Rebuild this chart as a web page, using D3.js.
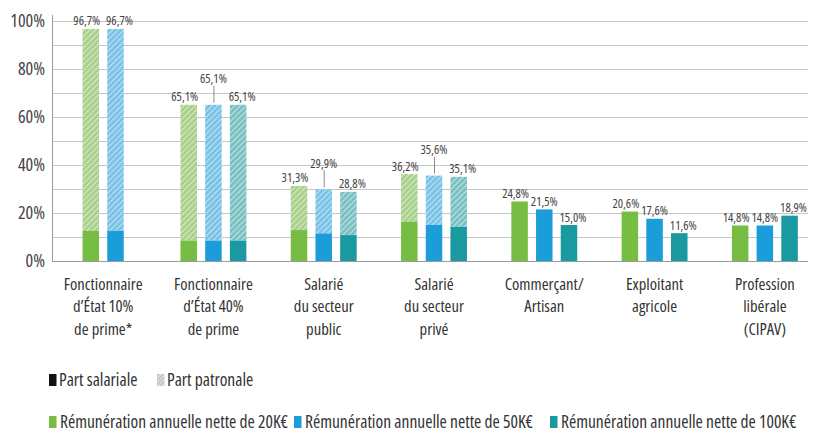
<!DOCTYPE html>
<html>
<head>
<meta charset="utf-8">
<script src="https://cdn.jsdelivr.net/npm/d3@7"></script>
<style>
  html, body { margin: 0; padding: 0; background: #fff; }
  svg { display: block; font-family: "Liberation Sans Narrow", "Open Sans", sans-serif; font-stretch: condensed; }
</style>
</head>
<body>
<svg id="chart" width="813" height="433"></svg>
<script>
// ---- data ----
const categories = [
  ["Fonctionnaire", "d’État 10%", "de prime*"],
  ["Fonctionnaire", "d’État 40%", "de prime"],
  ["Salarié", "du secteur", "public"],
  ["Salarié", "du secteur", "privé"],
  ["Commerçant/", "Artisan"],
  ["Exploitant", "agricole"],
  ["Profession", "libérale", "(CIPAV)"]
];
const seriesNames = [
  "Rémunération annuelle nette de 20K€",
  "Rémunération annuelle nette de 50K€",
  "Rémunération annuelle nette de 100K€"
];
const seriesColors = ["#78bd43", "#1b9dd9", "#1a9aa0"];
const hatchColors = ["#a6cf88", "#76c1e6", "#76bfc1"];
// total contribution rate (part salariale + part patronale), %
const total20  = [96.7, 65.1, 31.3, 36.2, 24.8, 20.6, 14.8];
const total50  = [96.7, 65.1, 29.9, 35.6, 21.5, 17.6, 14.8];
const total100 = [null, 65.1, 28.8, 35.1, 15.0, 11.6, 18.9];
// part salariale, %
const salarial20  = [12.5, 8.5, 12.9, 16.4, 24.8, 20.6, 14.8];
const salarial50  = [12.6, 8.5, 11.5, 15.0, 21.5, 17.6, 14.8];
const salarial100 = [null, 8.5, 10.8, 14.2, 15.0, 11.6, 18.9];
const yTicks = [0, 20, 40, 60, 80, 100];
const yGrid = [0, 10, 20, 30, 40, 50, 60, 70, 80, 90, 100];
const legendTop = ["Part salariale", "Part patronale"];

const totals = [total20, total50, total100];
const salarials = [salarial20, salarial50, salarial100];

// ---- layout ----
const svg = d3.select("#chart");
const plotLeft = 52, plotRight = 808, plotTop = 21, plotBottom = 261;

const x = d3.scaleBand().domain(d3.range(categories.length)).range([48, 820]).padding(0);
const y = d3.scaleLinear().domain([0, 100]).range([plotBottom, plotTop]);
const barW = 16.5, barStep = 24.7;

const fmt = v => d3.format(".1f")(v).replace(".", ",") + "%";

// patterns
const defs = svg.append("defs");
seriesColors.forEach((c, i) => {
  const p = defs.append("pattern")
    .attr("id", "hatch" + i)
    .attr("patternUnits", "userSpaceOnUse")
    .attr("width", 4).attr("height", 4)
    .attr("patternTransform", "rotate(45)");
  p.append("rect").attr("width", 4).attr("height", 4).attr("fill", hatchColors[i]);
  p.append("rect").attr("width", 1.3).attr("height", 4).attr("fill", "#ffffff").attr("opacity", 0.5);
});
{
  const p = defs.append("pattern")
    .attr("id", "hatchGray")
    .attr("patternUnits", "userSpaceOnUse")
    .attr("width", 3).attr("height", 3)
    .attr("patternTransform", "rotate(45)");
  p.append("rect").attr("width", 3).attr("height", 3).attr("fill", "#c4c4c4");
  p.append("rect").attr("width", 1).attr("height", 3).attr("fill", "#ffffff").attr("opacity", 0.6);
}

// gridlines
svg.append("g").selectAll("line").data(yGrid).join("line")
  .attr("x1", plotLeft).attr("x2", plotRight)
  .attr("y1", d => y(d) + 0.5).attr("y2", d => y(d) + 0.5)
  .attr("stroke", d => d === 0 ? "#9a9a9a" : "#c6c6c6")
  .attr("stroke-width", 1);

// y axis line
svg.append("line")
  .attr("x1", plotLeft + 0.5).attr("x2", plotLeft + 0.5)
  .attr("y1", 15).attr("y2", plotBottom)
  .attr("stroke", "#9a9a9a");

// y tick labels
svg.append("g").selectAll("text").data(yTicks).join("text")
  .attr("x", 45).attr("y", d => y(d))
  .attr("dy", "0.36em")
  .attr("text-anchor", "end")
  .attr("font-size", 18)
  .attr("fill", "#444")
  .text(d => d + "%");

// bars
const barsData = [];
categories.forEach((cat, gi) => {
  const present = [0, 1, 2].filter(s => totals[s][gi] != null);
  const n = present.length;
  const hasPatronal = present.some(s => totals[s][gi] > salarials[s][gi] + 0.05);
  present.forEach((s, k) => {
    const cx = x(gi) + x.bandwidth() / 2 + (k - (n - 1) / 2) * barStep;
    barsData.push({ gi, s, k, n, cx, total: totals[s][gi], sal: salarials[s][gi], hasPatronal });
  });
});

const gBars = svg.append("g");
// patronal (hatched) part
gBars.selectAll("rect.pat").data(barsData.filter(d => d.total > d.sal)).join("rect")
  .attr("class", "pat")
  .attr("x", d => d.cx - barW / 2)
  .attr("width", barW)
  .attr("y", d => y(d.total))
  .attr("height", d => y(d.sal) - y(d.total))
  .attr("fill", d => `url(#hatch${d.s})`);
// salarial (solid) part
gBars.selectAll("rect.sal").data(barsData).join("rect")
  .attr("class", "sal")
  .attr("x", d => d.cx - barW / 2)
  .attr("width", barW)
  .attr("y", d => y(d.sal))
  .attr("height", d => y(0) - y(d.sal))
  .attr("fill", d => seriesColors[d.s]);

// value labels
const gLab = svg.append("g");
barsData.forEach(d => {
  const top = y(d.total);
  const raised = d.hasPatronal && d.n === 3 && d.k === 1;
  let dx = 0;
  if (d.n > 1 && d.k === 0) dx = -4;
  if (d.n > 1 && d.k === d.n - 1) dx = 4;
  const cy = raised ? top - 26 : top - 8;
  gLab.append("text")
    .attr("x", d.cx + dx).attr("y", cy)
    .attr("dy", "0.36em")
    .attr("text-anchor", "middle")
    .attr("font-size", 12.5)
    .attr("fill", "#444")
    .text(fmt(d.total));
  if (raised) {
    gLab.append("line")
      .attr("x1", d.cx + 0.5).attr("x2", d.cx + 0.5)
      .attr("y1", top - 19).attr("y2", top - 2)
      .attr("stroke", "#8a8a8a").attr("stroke-width", 1);
  }
});

// category labels
const gCat = svg.append("g");
categories.forEach((lines, gi) => {
  const t = gCat.append("text")
    .attr("x", x(gi) + x.bandwidth() / 2)
    .attr("y", 284)
    .attr("text-anchor", "middle")
    .attr("font-size", 16.6)
    .attr("fill", "#333");
  lines.forEach((ln, li) => {
    t.append("tspan")
      .attr("x", x(gi) + x.bandwidth() / 2)
      .attr("y", 284 + li * 22.3)
      .attr("dy", "0.36em")
      .text(ln);
  });
});

// legend row 1
const lg1 = svg.append("g");
const lg1x = [49, 157];
legendTop.forEach((name, i) => {
  lg1.append("rect")
    .attr("x", lg1x[i]).attr("y", 374)
    .attr("width", 7.5).attr("height", 12)
    .attr("fill", i === 0 ? "#111" : "url(#hatchGray)");
  lg1.append("text")
    .attr("x", lg1x[i] + 10).attr("y", 380)
    .attr("dy", "0.36em")
    .attr("font-size", 17.5)
    .attr("fill", "#333")
    .text(name);
});

// legend row 2
const lg2 = svg.append("g");
const lg2x = [49, 294, 550];
seriesNames.forEach((name, i) => {
  lg2.append("rect")
    .attr("x", lg2x[i]).attr("y", 416)
    .attr("width", 7.5).attr("height", 12)
    .attr("fill", seriesColors[i]);
  lg2.append("text")
    .attr("x", lg2x[i] + 11).attr("y", 422)
    .attr("dy", "0.36em")
    .attr("font-size", 17.5)
    .attr("fill", "#333")
    .text(name);
});
</script>
</body>
</html>
